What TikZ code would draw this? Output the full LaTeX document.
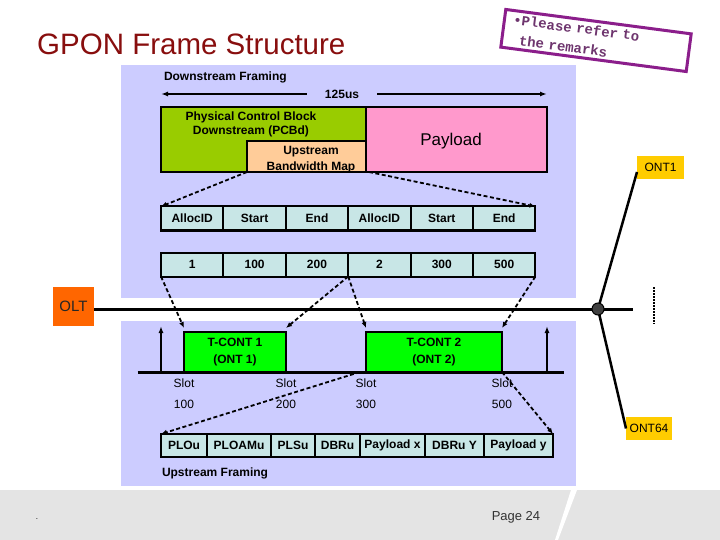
\documentclass[tikz,border=0pt]{standalone}
\usepackage{fontspec}
\setmainfont{Liberation Sans}
\newfontfamily\stampfont{Liberation Mono}
\usetikzlibrary{arrows.meta,calc}
\definecolor{panel}{HTML}{CCCCFF}
\definecolor{pcbgreen}{HTML}{99CC00}
\definecolor{paypink}{HTML}{FF99CC}
\definecolor{peach}{HTML}{FFCC99}
\definecolor{cellc}{HTML}{C8E6E6}
\definecolor{tcgreen}{HTML}{00FF00}
\definecolor{oltorange}{HTML}{FF6600}
\definecolor{ontyellow}{HTML}{FFCC00}
\definecolor{footgray}{HTML}{E4E4E4}
\definecolor{titlered}{HTML}{880E0E}
\definecolor{stamppurple}{HTML}{8B1E8B}
\definecolor{stamptext}{HTML}{6E356E}
\definecolor{splitgray}{HTML}{404040}
\begin{document}
\begin{tikzpicture}[x=1pt,y=-1pt,
  lab/.style={inner sep=0, outer sep=0, font=\fontsize{12}{14}\selectfont},
  blab/.style={inner sep=0, outer sep=0, font=\bfseries\fontsize{12}{14}\selectfont},
  boxb/.style={draw=black, line width=2pt, inner sep=0, outer sep=0, anchor=north west},
  cell/.style={boxb, fill=cellc, minimum height=24pt, font=\bfseries\fontsize{12}{14}\selectfont},
  tagbox/.style={fill=ontyellow, inner sep=0, outer sep=0, minimum height=23pt, font=\fontsize{12}{14}\selectfont},
  dasharrow/.style={line width=1.8pt, dash pattern=on 4pt off 2.5pt, -{Latex[length=6pt,width=5pt]}},
  solidarrow/.style={line width=2pt, -{Latex[length=7pt,width=5pt]}},
  fiber/.style={line width=3pt},
  branch/.style={line width=2.5pt}
]
\useasboundingbox (0,0) rectangle (720,540);
\fill[white] (0,0) rectangle (720,540);
% panels and footer
\fill[panel] (120.5,65) rectangle (576,298);
\fill[panel] (120.5,321) rectangle (576,486);
\fill[footgray] (0,490) rectangle (720,540);
\fill[white] (571,490) -- (577,490) -- (558,540) -- (555,540) -- cycle;

% title and stamp
\node[anchor=base west, inner sep=0, text=titlered, font=\fontsize{29.5}{32}\selectfont] (title) at (37,55) {GPON Frame Structure};
\node[draw=stamppurple, line width=3pt, rotate=-7.5, minimum height=38pt, text width=169pt, inner xsep=9pt, inner ysep=0, align=left, text=stamptext, font=\stampfont\bfseries\fontsize{14}{20}\selectfont] (stamp) at (596,40.5) {•Please refer to\\\phantom{•}the remarks};

% downstream framing
\node[blab, anchor=west] (dsf) at (164,77) {Downstream Framing};
\node[blab, inner xsep=18pt] (t125) at (342,94) {125us};
\coordinate (a125l) at (161,94);
\coordinate (a125r) at (547,94);
\draw[solidarrow] (t125.west) -- (a125l);
\draw[solidarrow] (t125.east) -- (a125r);

\node[boxb, fill=pcbgreen, minimum width=205pt, minimum height=65pt] (pcbd) at (161,107) {};
\node[blab, align=center] (pcbdt) at (251,124) {Physical Control Block\\Downstream (PCBd)};
\node[boxb, fill=paypink, minimum width=181pt, minimum height=65pt] (pay) at (366,107) {};
\node[lab, font=\fontsize{17}{20}\selectfont] (payt) at (451,141) {Payload};
\node[boxb, fill=peach, minimum width=119pt, minimum height=31pt] (ubm) at (247,141) {};
\node[blab, align=center, font=\bfseries\fontsize{12}{16.5}\selectfont] (ubmt) at (311,159.5) {Upstream\\Bandwidth Map};

\foreach [count=\i] \t in {AllocID,Start,End,AllocID,Start,End} {
  \node[cell, minimum width=62.4pt] (c\i) at ({161+(\i-1)*62.4},206.5) {\t};
}
\foreach [count=\i] \t in {1,100,200,2,300,500} {
  \node[cell, minimum width=62.4pt] (d\i) at ({161+(\i-1)*62.4},252.5) {\t};
}

% upstream
\node[boxb, fill=tcgreen, minimum width=102pt, minimum height=40pt, align=center, font=\bfseries\fontsize{12}{17}\selectfont] (tc1) at (184,332) {T-CONT 1\\(ONT 1)};
\node[boxb, fill=tcgreen, minimum width=136pt, minimum height=40pt, align=center, font=\bfseries\fontsize{12}{17}\selectfont] (tc2) at (366,332) {T-CONT 2\\(ONT 2)};
\coordinate (bl) at (137.5,372);
\coordinate (br) at (564,372);
\draw[fiber] (bl) -- (br);
\coordinate (ua1) at (161,372);
\coordinate (ua1t) at (161,326);
\coordinate (ua2) at (547,372);
\coordinate (ua2t) at (547,326);
\draw[solidarrow] (ua1) -- (ua1t);
\draw[solidarrow] (ua2) -- (ua2t);
\foreach \x/\n [count=\i] in {184/100,286/200,366/300,502/500} {
  \node[lab] (slot\i) at (\x,383) {Slot};
  \node[lab] (num\i) at (\x,404) {\n};
}
\foreach \i/\a/\b/\t in {1/161/207/PLOu,2/207/271/PLOAMu,3/271/315/PLSu,4/315/360/DBRu,5/360/425/Payload x,6/425/484/DBRu Y,7/484/553/Payload y} {
  \node[cell, minimum height=23pt, minimum width={(\b-\a)*1pt}] (u\i) at (\a,434) {\t};
}
\node[blab, anchor=west] (usf) at (162,473) {Upstream Framing};

% OLT, splitter, ONTs
\node[fill=oltorange, minimum width=41pt, minimum height=39pt, inner sep=0, outer sep=0, text=black!85, font=\fontsize{15}{18}\selectfont] (olt) at (73.5,306.5) {OLT};
\node[tagbox, minimum width=47pt] (ont1) at (660.5,167.5) {ONT1};
\node[tagbox, minimum width=46pt] (ont64) at (649,428.5) {ONT64};
\coordinate (spc) at (598,309);
\coordinate (fibend) at (633,309);
\draw[fiber] (olt.east |- spc) -- (fibend);
\draw[branch] (spc) -- ([yshift=7pt]ont1.south west);
\draw[branch] (spc) -- (ont64.west);
\node[circle, fill=splitgray, draw=black, line width=1pt, minimum size=12pt, inner sep=0] (sp) at (spc) {};
\coordinate (dtop) at (654,287);
\coordinate (dbot) at (654,324);
\draw[line width=2pt, dash pattern=on 1.5pt off 1.5pt] (dtop) -- (dbot);

% footer texts
\node[lab, font=\fontsize{13}{15}\selectfont, text=black!80] (page) at (516,517) {Page 24};
\node[lab, font=\fontsize{8}{9}\selectfont] (dot) at (37,519) {.};

% dashed mapping arrows
\draw[dasharrow] (ubm.south west) -- (c1.north west);
\draw[dasharrow] ([xshift=3pt]ubm.south east) -- (c6.north east);
\draw[dasharrow] (d1.south west) -- ([yshift=4pt]tc1.north west);
\draw[dasharrow] (d3.south east) -- ([yshift=4pt]tc1.north east);
\draw[dasharrow] (d3.south east) -- ([yshift=4pt]tc2.north west);
\draw[dasharrow] (d6.south east) -- ([yshift=4pt]tc2.north east);
\draw[dasharrow] ([xshift=-6pt]tc2.south west) -- (u1.north west);
\draw[dasharrow] (tc2.south east) -- (u7.north east);
\end{tikzpicture}
\end{document}
